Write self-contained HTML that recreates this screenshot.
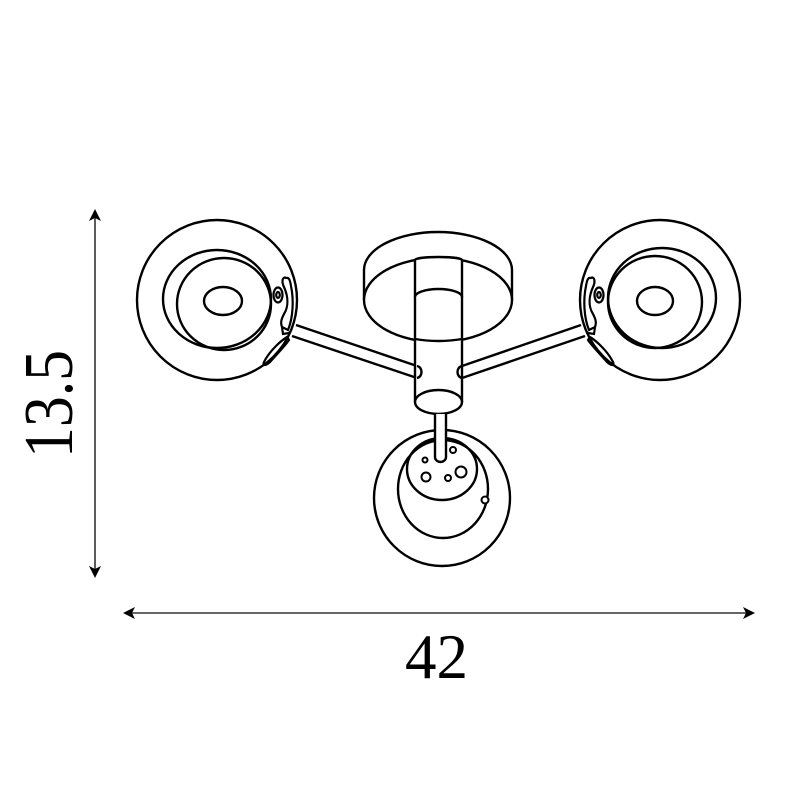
<!DOCTYPE html>
<html><head><style>html,body{margin:0;padding:0;background:#fff}svg{display:block}</style></head>
<body>
<svg width="800" height="800" viewBox="0 0 800 800" xmlns="http://www.w3.org/2000/svg">
<defs>
<g id="clip" fill="none" stroke="#000" stroke-width="2.2">
  <ellipse cx="278" cy="295" rx="4.5" ry="7.5"/>
  <ellipse cx="278" cy="295" rx="1.8" ry="3"/>
  <path d="M286,278 C283,276 281,281 284,287 C288,296 289,306 284,314 C282,318 280,322 282,327 L288,330 C293,318 294,300 291,286 C290,280 289,277 286,278 Z"/>
  <path d="M282,327 L283,334 L289,333"/>
  <path d="M287,337 C282,340 270,350 264,362 C262,366 266,366 270,362 C276,355 285,346 289,340 Z"/>
</g>
</defs>
<g fill="none" stroke="#000" stroke-width="2.4">
  <line x1="296" y1="325" x2="417" y2="366"/>
  <line x1="292" y1="336" x2="417" y2="378"/>
  <line x1="581" y1="325" x2="462" y2="366"/>
  <line x1="585" y1="336" x2="462" y2="378"/>
  <circle cx="217" cy="300" r="80" fill="#fff"/>
  <ellipse cx="217" cy="299" rx="54" ry="49"/>
  <ellipse cx="224" cy="304" rx="47" ry="46"/>
  <ellipse cx="223" cy="301" rx="19" ry="14"/>
  <circle cx="660" cy="300" r="80" fill="#fff"/>
  <ellipse cx="662" cy="298" rx="54" ry="50"/>
  <ellipse cx="655" cy="302" rx="47" ry="46"/>
  <ellipse cx="655" cy="301" rx="18" ry="14"/>
</g>
<use href="#clip"/>
<use href="#clip" transform="translate(877,0) scale(-1,1)"/>
<g fill="none" stroke="#000" stroke-width="2.4">
  <path d="M364,300 L364,270 A74,38 0 0 1 512,270 L512,300" fill="#fff"/>
  <ellipse cx="438" cy="300" rx="74" ry="42" fill="#fff"/>
  <rect x="415" y="258" width="47" height="144" fill="#fff" stroke="none"/>
  <line x1="415" y1="260" x2="415" y2="402"/>
  <line x1="462" y1="260" x2="462" y2="402"/>
  <path d="M415,260 A23.5,3 0 0 1 462,260"/>
  <path d="M415,297 A23.5,8 0 0 1 462,297"/>
  <path d="M415,339 Q438.5,343 462,339"/>
  <path d="M417,366 C423,367 423,377 417,378"/>
  <path d="M462,366 C456,367 456,377 462,378"/>
  <ellipse cx="438.5" cy="402" rx="23.5" ry="12" fill="#fff"/>
  <circle cx="442" cy="498" r="68"/>
  <ellipse cx="443" cy="489" rx="45" ry="49"/>
  <ellipse cx="442" cy="469" rx="35" ry="31"/>
  <path d="M435,414 L435,457 A5.5,5 0 0 0 446,457 L446,414" fill="#fff"/>
  <circle cx="425" cy="460" r="2.5" stroke-width="2"/>
  <circle cx="453" cy="450" r="3" stroke-width="2"/>
  <circle cx="426" cy="477" r="4.5" stroke-width="2"/>
  <circle cx="448" cy="478" r="3" stroke-width="2"/>
  <circle cx="461" cy="472" r="5.5" stroke-width="2"/>
  <circle cx="485" cy="500" r="3.5" stroke-width="2" fill="#fff"/>
</g>
<g stroke="#333" stroke-width="1.6" fill="#000">
  <line x1="95" y1="214" x2="95" y2="574"/>
  <path d="M95,209 L89,221 L95,218 L101,221 Z" stroke="none"/>
  <path d="M95,578 L89,566 L95,569 L101,566 Z" stroke="none"/>
  <line x1="128" y1="613" x2="750" y2="613"/>
  <path d="M123,613 L135,607 L132,613 L135,619 Z" stroke="none"/>
  <path d="M755,613 L743,607 L746,613 L743,619 Z" stroke="none"/>
</g>
<text x="0" y="0" transform="translate(72,458) rotate(-90)" font-family="Liberation Serif, serif" font-size="70" textLength="108" lengthAdjust="spacingAndGlyphs" fill="#000">13.5</text>
<text x="405" y="678" font-family="Liberation Serif, serif" font-size="64" textLength="63" lengthAdjust="spacingAndGlyphs" fill="#000">42</text>
</svg>
</body></html>
